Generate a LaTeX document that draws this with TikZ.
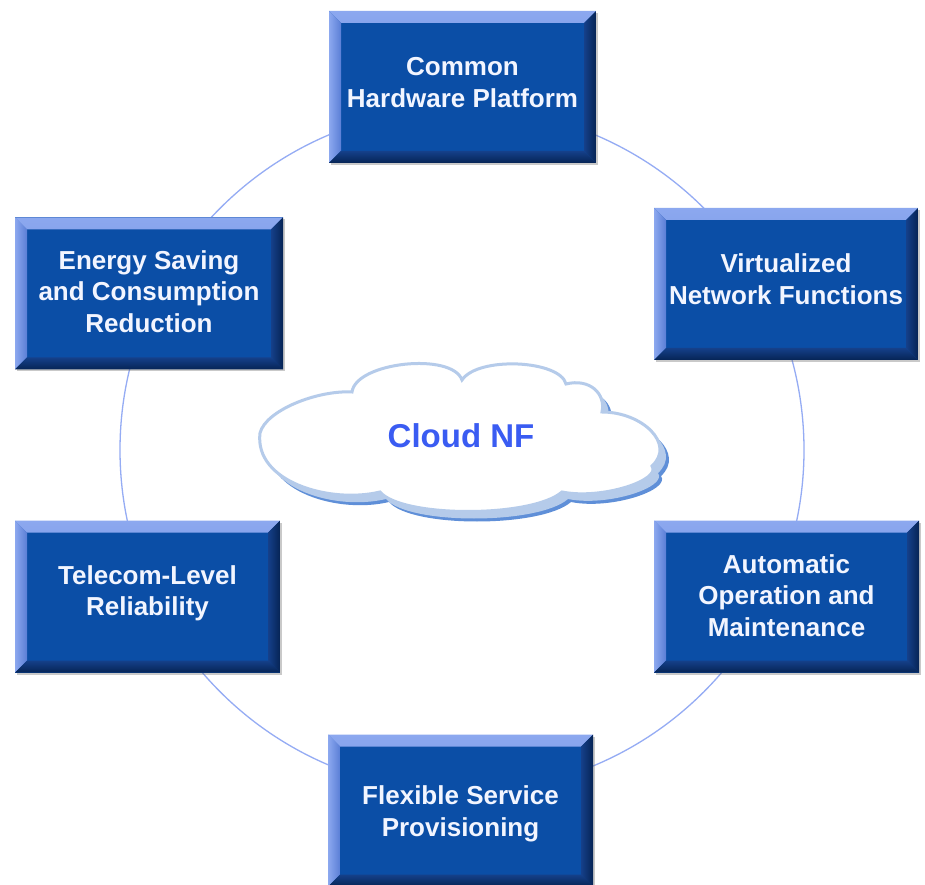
\documentclass[tikz,border=0pt]{standalone}
\usepackage{fontspec}
\setmainfont{Liberation Sans}
\usetikzlibrary{shadows}
\definecolor{boxbase}{HTML}{0B4EA6}
\definecolor{bevlightA}{HTML}{8CA8EF}
\definecolor{bevlightB}{HTML}{5A7ED6}
\definecolor{bevdarkA}{HTML}{15408A}
\definecolor{bevdarkB}{HTML}{062455}
\definecolor{ringcol}{HTML}{95ACF4}
\definecolor{cloudband}{HTML}{B5CBEA}
\definecolor{cloudedge}{HTML}{5F8FD8}
\definecolor{cloudtext}{HTML}{3A5CF2}
\definecolor{boxtext}{HTML}{F2F5FF}
\tikzset{
  featurebox/.style={
    minimum width=#1, minimum height=152pt, inner sep=0pt,
    fill=boxbase, text=boxtext, align=center,
    font=\fontsize{26}{31.5}\selectfont\bfseries,
    drop shadow={shadow xshift=2pt, shadow yshift=-2pt, opacity=0.35, fill=black!60},
    path picture={
      \shade[top color=bevlightA, bottom color=bevlightB]
        (path picture bounding box.north west) -- (path picture bounding box.north east)
        -- ([xshift=-12pt,yshift=-12pt]path picture bounding box.north east)
        -- ([xshift=12pt,yshift=-12pt]path picture bounding box.north west) -- cycle;
      \shade[left color=bevlightA, right color=bevlightB]
        (path picture bounding box.north west) -- ([xshift=12pt,yshift=-12pt]path picture bounding box.north west)
        -- ([xshift=12pt,yshift=12pt]path picture bounding box.south west)
        -- (path picture bounding box.south west) -- cycle;
      \shade[left color=bevdarkA, right color=bevdarkB]
        (path picture bounding box.north east) -- ([xshift=-12pt,yshift=-12pt]path picture bounding box.north east)
        -- ([xshift=-12pt,yshift=12pt]path picture bounding box.south east)
        -- (path picture bounding box.south east) -- cycle;
      \shade[top color=bevdarkA, bottom color=bevdarkB]
        (path picture bounding box.south west) -- ([xshift=12pt,yshift=12pt]path picture bounding box.south west)
        -- ([xshift=-12pt,yshift=12pt]path picture bounding box.south east)
        -- (path picture bounding box.south east) -- cycle;
    }
  },
  featurebox/.default=266pt,
  textpos/.style={text height=#1, text depth=152pt-#1},
  ring/.style={draw=ringcol, line width=1.3pt},
  cloudlabel/.style={text=cloudtext, font=\fontsize{33}{38}\selectfont\bfseries}
}
\begin{document}
\begin{tikzpicture}[x=1pt,y=1pt]
\useasboundingbox[fill=white] (0,0) rectangle (925,884);
% ring
\coordinate (ringc) at (462,434);
\draw[ring] (ringc) circle[radius=342];
% cloud
\def\cloudshape{(260,451)
  .. controls (266,474) and (318,494) .. (352,492)
  .. controls (356,522) and (452,532) .. (462,504)
  .. controls (478,528) and (560,524) .. (566,500)
  .. controls (590,506) and (606,490) .. (602,472)
  .. controls (642,472) and (676,440) .. (652,418)
  .. controls (662,404) and (602,384) .. (562,392)
  .. controls (532,366) and (402,366) .. (380,392)
  .. controls (330,380) and (254,402) .. (260,451) -- cycle}
\fill[cloudedge, shift={(9,-10)}] \cloudshape;
\fill[cloudband, shift={(6,-7)}] \cloudshape;
\fill[white, draw=cloudband, line width=3pt] \cloudshape;
\node[cloudlabel] (cloud) at (461,448) {Cloud NF};
% feature boxes
\node[featurebox=267pt, textpos=96.3pt]  (hw)   at (462.5,797) {Common\\Hardware Platform};
\node[featurebox=264pt, textpos=96.3pt]  (vnf)  at (786,600) {Virtualized\\Network Functions};
\node[featurebox=265pt, textpos=115.8pt] (oam)  at (786.5,287.5) {Automatic\\Operation and\\Maintenance};
\node[featurebox=265pt, textpos=101.8pt] (flex) at (460.5,73.5) {Flexible Service\\Provisioning};
\node[featurebox=265pt, textpos=95.3pt]  (rel)  at (147.5,287.5) {Telecom-Level\\Reliability};
\node[featurebox=268pt, textpos=114.8pt] (eco)  at (149,590.5) {Energy Saving\\and Consumption\\Reduction};
\end{tikzpicture}
\end{document}
